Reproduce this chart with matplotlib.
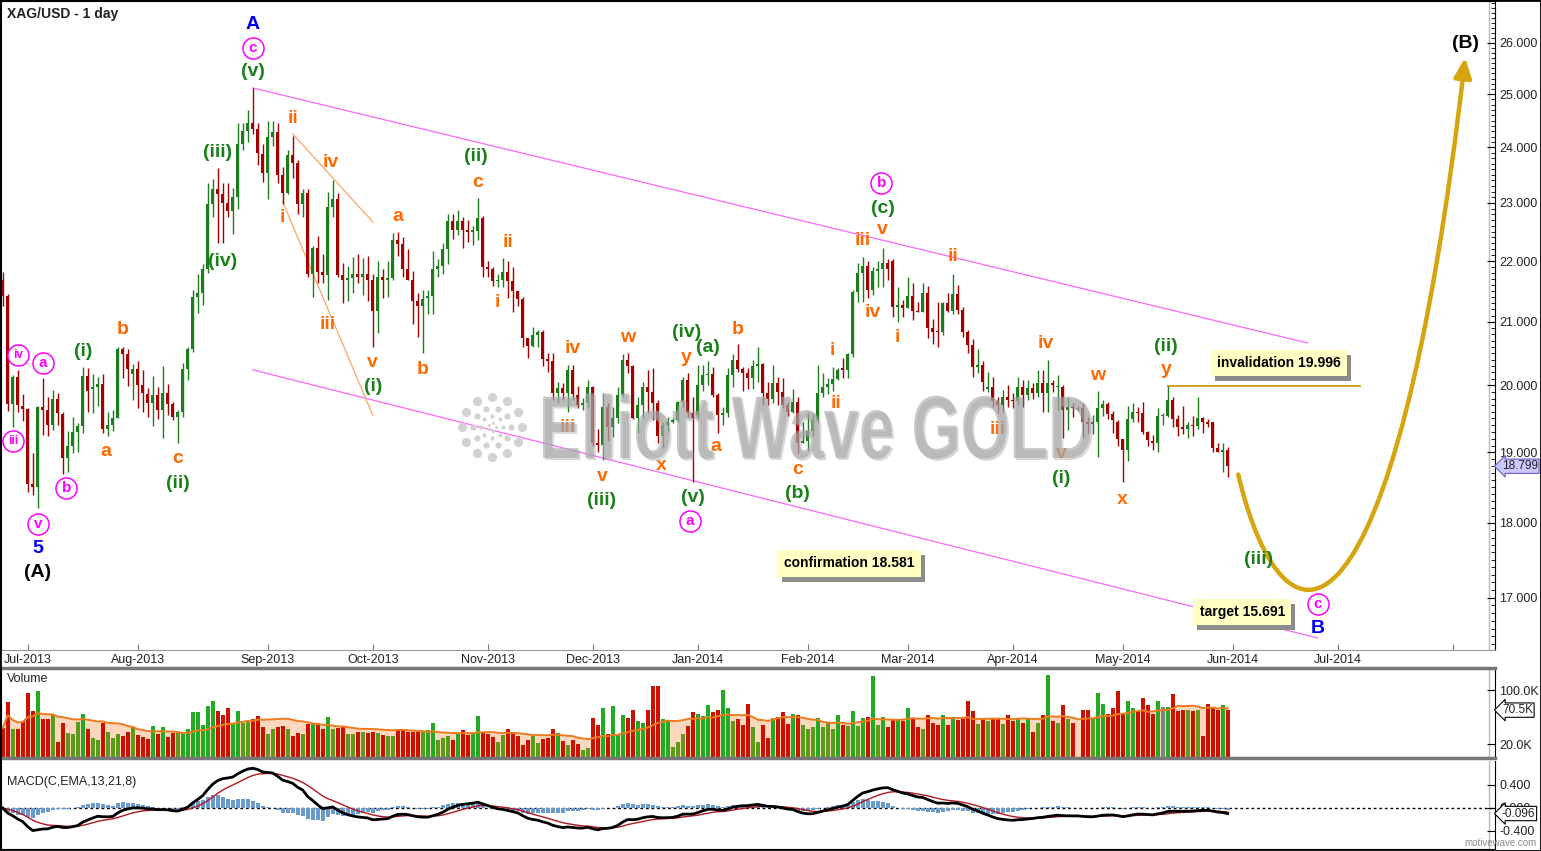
import numpy as np
import pandas as pd
import matplotlib
matplotlib.use("Agg")
import matplotlib.pyplot as plt
import matplotlib.transforms as mtransforms
from matplotlib.path import Path
from matplotlib.patches import FancyArrowPatch, ArrowStyle, Rectangle, PathPatch
from matplotlib.ticker import FixedLocator, NullFormatter, FormatStrFormatter
from matplotlib.textpath import TextPath
from matplotlib.font_manager import FontProperties

plt.rcParams['font.family'] = ['Liberation Sans', 'DejaVu Sans']

# daily XAG/USD candles (first bar = 19 Jun 2013, last = 30 May 2014)
opens = [
    21.68, 21.42, 19.72, 20.13, 19.69, 19.64, 18.54, 18.50, 19.67, 19.63,
    19.40, 19.79, 19.57, 18.92, 19.10, 19.30, 19.39, 20.14, 19.94, 19.97,
    20.02, 19.34, 19.40, 19.51, 20.56, 20.49, 20.17, 20.25, 20.00, 19.87,
    19.73, 19.85, 19.63, 19.89, 19.72, 19.52, 19.60, 20.25, 20.56, 21.40,
    21.47, 21.87, 22.98, 23.25, 23.16, 23.00, 22.86, 23.11, 24.07, 24.30,
    24.45, 24.34, 23.88, 23.53, 24.20, 24.28, 23.49, 23.18, 23.86, 23.72,
    22.98, 23.18, 21.79, 22.22, 21.81, 21.76, 22.93, 23.07, 21.76, 21.68,
    21.71, 21.79, 21.74, 21.79, 21.69, 21.18, 21.73, 21.68, 21.71, 22.36,
    22.29, 21.86, 21.68, 21.34, 21.26, 21.38, 21.41, 21.87, 21.92, 22.21,
    22.68, 22.53, 22.68, 22.53, 22.49, 22.51, 22.74, 21.90, 21.87, 21.66,
    21.69, 21.81, 21.66, 21.50, 21.37, 20.74, 20.62, 20.79, 20.83, 20.41,
    20.37, 19.88, 19.96, 19.88, 20.24, 19.85, 19.70, 19.73, 19.97, 19.14,
    19.11, 19.67, 19.37, 19.51, 19.85, 20.40, 20.30, 19.51, 19.70, 19.98,
    19.90, 19.73, 19.24, 19.40, 19.44, 19.48, 19.75, 20.08, 19.58, 19.55,
    20.00, 20.16, 20.18, 19.85, 19.55, 19.58, 20.16, 20.40, 20.25, 20.19,
    20.11, 20.30, 20.33, 19.88, 19.80, 20.03, 19.90, 19.70, 19.60, 19.75,
    19.14, 19.16, 19.31, 19.47, 19.88, 19.97, 20.02, 20.10, 20.27, 20.24,
    20.49, 21.48, 21.80, 21.92, 21.52, 21.83, 21.86, 21.97, 22.00, 21.24,
    21.27, 21.22, 21.42, 21.18, 21.16, 21.46, 20.90, 20.84, 20.83, 21.30,
    21.18, 21.45, 21.19, 20.84, 20.63, 20.29, 20.32, 19.94, 19.97, 19.76,
    19.70, 19.82, 19.78, 19.76, 19.97, 19.85, 19.96, 19.88, 20.03, 19.88,
    20.03, 19.97, 19.98, 19.63, 19.67, 19.64, 19.66, 19.44, 19.42, 19.44,
    19.66, 19.72, 19.57, 19.44, 19.19, 19.03, 19.49, 19.60, 19.58, 19.30,
    19.17, 19.14, 19.54, 19.54, 19.78, 19.49, 19.37, 19.35, 19.40, 19.39,
    19.51, 19.44, 19.44, 19.06, 19.01, 19.04,
]
highs = [
    21.82, 21.45, 20.16, 20.24, 19.87, 19.66, 18.99, 19.69, 20.11, 19.82,
    19.93, 19.88, 19.60, 19.31, 19.52, 19.43, 20.29, 20.27, 20.17, 20.13,
    20.17, 19.60, 19.63, 20.60, 20.60, 20.56, 20.33, 20.37, 20.24, 19.96,
    20.14, 19.97, 20.30, 20.02, 19.74, 19.63, 20.35, 20.60, 21.52, 21.78,
    21.95, 23.35, 23.43, 23.62, 23.35, 23.35, 23.27, 24.45, 24.45, 24.70,
    25.11, 24.45, 24.07, 24.50, 24.50, 24.45, 23.65, 23.95, 24.22, 23.77,
    23.25, 23.25, 22.26, 22.42, 22.12, 23.20, 23.40, 23.17, 21.97, 21.92,
    22.07, 22.12, 22.05, 22.08, 21.79, 22.00, 21.87, 22.00, 22.47, 22.49,
    22.40, 22.20, 21.84, 21.47, 21.52, 21.52, 22.17, 22.03, 22.31, 22.81,
    22.81, 22.88, 22.75, 22.70, 22.60, 23.09, 22.78, 22.00, 21.90, 21.79,
    22.05, 22.00, 21.90, 21.50, 21.40, 20.74, 20.92, 20.87, 20.86, 20.51,
    20.51, 20.05, 20.03, 20.32, 20.32, 19.99, 19.81, 20.08, 19.99, 19.35,
    19.88, 19.73, 19.67, 19.97, 20.48, 20.50, 20.32, 19.82, 20.05, 20.24,
    20.27, 19.78, 19.44, 19.52, 19.50, 19.77, 20.13, 20.19, 19.82, 20.32,
    20.32, 20.37, 20.29, 19.89, 19.67, 20.27, 20.48, 20.64, 20.29, 20.27,
    20.40, 20.59, 20.35, 20.05, 20.32, 20.13, 20.11, 19.75, 19.94, 19.82,
    19.45, 19.60, 19.56, 20.32, 20.19, 20.11, 20.29, 20.27, 20.43, 20.51,
    21.52, 21.97, 22.07, 22.00, 21.90, 22.00, 22.22, 22.03, 22.03, 21.57,
    21.35, 21.74, 21.63, 21.32, 21.63, 21.58, 21.05, 21.32, 21.32, 21.46,
    21.79, 21.60, 21.24, 20.87, 20.72, 20.57, 20.37, 20.21, 20.13, 19.82,
    19.93, 20.00, 19.88, 20.13, 20.08, 20.08, 20.03, 20.24, 20.24, 20.40,
    20.08, 20.16, 20.00, 19.82, 19.73, 19.69, 19.73, 19.52, 19.55, 19.91,
    19.78, 19.75, 19.61, 19.47, 19.20, 19.69, 19.73, 19.67, 19.75, 19.31,
    19.25, 19.66, 19.58, 19.996, 19.82, 19.55, 19.69, 19.44, 19.54, 19.82,
    19.52, 19.49, 19.44, 19.13, 19.14, 19.08,
]
lows = [
    21.26, 19.61, 19.37, 19.60, 19.46, 18.43, 18.39, 18.21, 19.25, 19.24,
    19.33, 19.40, 18.69, 18.72, 18.99, 19.00, 19.28, 19.60, 19.58, 19.69,
    19.28, 19.24, 19.31, 19.51, 20.11, 19.99, 19.78, 19.66, 19.60, 19.52,
    19.39, 19.49, 19.21, 19.55, 19.48, 19.13, 19.52, 20.08, 20.52, 21.14,
    21.27, 21.80, 22.75, 22.30, 22.30, 22.75, 22.46, 22.90, 23.95, 24.10,
    24.25, 23.68, 23.38, 23.07, 24.03, 23.35, 22.98, 23.16, 23.45, 22.80,
    22.75, 21.73, 21.40, 21.63, 21.63, 21.36, 22.75, 21.73, 21.31, 21.33,
    21.47, 21.63, 21.43, 21.33, 20.60, 20.82, 21.38, 21.40, 21.68, 22.08,
    21.74, 21.68, 20.96, 20.76, 20.50, 21.12, 21.12, 21.74, 21.79, 21.95,
    22.38, 22.45, 22.22, 22.33, 22.28, 22.35, 21.74, 21.73, 21.58, 21.57,
    21.57, 21.39, 21.15, 21.25, 20.60, 20.43, 20.60, 20.60, 20.30, 20.21,
    19.78, 19.73, 19.78, 19.60, 19.78, 19.66, 19.63, 19.66, 19.10, 19.00,
    18.89, 19.17, 19.22, 19.43, 19.82, 20.19, 19.49, 19.28, 19.51, 19.58,
    19.48, 19.13, 19.06, 19.30, 19.43, 19.45, 19.67, 19.52, 18.58, 19.51,
    19.92, 20.00, 19.82, 19.28, 19.40, 19.52, 19.97, 20.21, 19.92, 19.94,
    19.95, 20.05, 19.70, 19.70, 19.73, 19.70, 19.66, 19.54, 19.58, 18.99,
    19.13, 19.02, 19.24, 19.43, 19.82, 19.87, 19.91, 20.08, 20.11, 20.11,
    20.44, 21.32, 21.32, 21.39, 21.44, 21.57, 21.57, 21.68, 21.08, 21.00,
    21.07, 21.22, 21.02, 21.15, 21.16, 20.74, 20.64, 20.60, 20.79, 21.15,
    21.12, 21.13, 20.76, 20.51, 20.13, 20.19, 19.92, 19.90, 19.67, 19.58,
    19.60, 19.67, 19.66, 19.70, 19.67, 19.78, 19.79, 19.82, 19.60, 19.60,
    19.90, 19.63, 19.21, 19.33, 19.52, 19.61, 19.21, 19.28, 19.27, 18.93,
    19.54, 19.49, 19.28, 19.10, 18.57, 18.88, 19.44, 19.44, 19.27, 19.10,
    19.03, 19.01, 19.40, 19.52, 19.37, 19.24, 19.27, 19.21, 19.24, 19.35,
    19.28, 19.37, 19.01, 19.00, 18.72, 18.64,
]
closes = [
    21.42, 19.72, 20.13, 19.70, 19.64, 18.54, 18.50, 19.67, 19.63, 19.40,
    19.79, 19.58, 18.92, 19.10, 19.30, 19.39, 20.14, 19.92, 19.97, 20.02,
    19.34, 19.40, 19.51, 20.56, 20.49, 20.25, 20.25, 20.00, 19.88, 19.73,
    19.85, 19.63, 19.89, 19.72, 19.52, 19.60, 20.25, 20.56, 21.40, 21.47,
    21.87, 22.98, 23.25, 23.16, 23.00, 22.86, 23.11, 24.07, 24.30, 24.45,
    24.34, 23.90, 23.53, 24.20, 24.28, 23.49, 23.18, 23.86, 23.72, 22.98,
    23.18, 21.79, 22.22, 21.81, 21.76, 22.93, 23.07, 21.76, 21.68, 21.71,
    21.79, 21.74, 21.79, 21.69, 21.18, 21.73, 21.68, 21.71, 22.36, 22.29,
    21.86, 21.68, 21.34, 21.26, 21.37, 21.41, 21.87, 21.92, 22.21, 22.68,
    22.53, 22.68, 22.53, 22.49, 22.53, 22.74, 21.90, 21.87, 21.66, 21.69,
    21.81, 21.66, 21.50, 21.37, 20.74, 20.62, 20.79, 20.83, 20.41, 20.37,
    19.88, 19.96, 19.88, 20.24, 19.87, 19.70, 19.73, 19.97, 19.14, 19.11,
    19.67, 19.37, 19.51, 19.85, 20.40, 20.30, 19.51, 19.70, 19.98, 19.90,
    19.73, 19.24, 19.40, 19.44, 19.48, 19.75, 20.08, 19.58, 19.51, 20.00,
    20.16, 20.18, 19.85, 19.55, 19.58, 20.16, 20.40, 20.25, 20.19, 20.11,
    20.30, 20.33, 19.88, 19.80, 20.03, 19.90, 19.70, 19.60, 19.75, 19.14,
    19.16, 19.31, 19.47, 19.88, 19.97, 20.02, 20.10, 20.24, 20.24, 20.49,
    21.48, 21.80, 21.92, 21.52, 21.83, 21.86, 21.97, 21.87, 21.24, 21.27,
    21.22, 21.42, 21.18, 21.16, 21.46, 20.90, 20.83, 20.83, 21.30, 21.18,
    21.45, 21.19, 20.84, 20.63, 20.29, 20.32, 20.05, 19.98, 19.76, 19.70,
    19.82, 19.78, 19.76, 19.97, 19.85, 19.96, 19.88, 20.03, 19.88, 20.03,
    20.00, 19.98, 19.63, 19.67, 19.65, 19.66, 19.44, 19.42, 19.44, 19.66,
    19.72, 19.57, 19.47, 19.20, 19.03, 19.49, 19.60, 19.58, 19.30, 19.18,
    19.14, 19.54, 19.54, 19.78, 19.49, 19.37, 19.35, 19.40, 19.39, 19.51,
    19.44, 19.42, 19.06, 19.01, 19.04, 18.80,
]
# volume in thousands
volume_k = [
    44, 82, 42, 42, 55, 95, 69, 99, 57, 58, 64, 24, 51, 37, 36, 53, 65, 43, 30, 27,
    51, 39, 30, 36, 32, 39, 45, 34, 31, 28, 47, 36, 45, 31, 37, 38, 38, 43, 67, 67,
    49, 77, 84, 69, 64, 74, 51, 69, 51, 53, 58, 62, 46, 36, 43, 46, 47, 43, 32, 37,
    35, 50, 51, 52, 42, 60, 43, 44, 46, 36, 36, 39, 39, 37, 38, 37, 34, 32, 32, 41,
    42, 39, 39, 39, 39, 41, 51, 27, 30, 32, 26, 37, 41, 34, 37, 62, 38, 35, 31, 23,
    34, 43, 39, 33, 19, 26, 32, 22, 28, 29, 42, 37, 25, 19, 26, 21, 12, 15, 59, 48,
    74, 36, 76, 36, 63, 59, 71, 55, 51, 71, 106, 106, 58, 55, 16, 24, 36, 47, 67, 65,
    62, 78, 67, 70, 100, 73, 54, 58, 48, 79, 45, 24, 48, 30, 59, 61, 67, 50, 65, 64,
    48, 42, 46, 59, 45, 52, 43, 64, 48, 47, 69, 47, 59, 61, 121, 48, 61, 46, 58, 58,
    54, 73, 59, 45, 43, 64, 51, 48, 64, 48, 60, 56, 60, 84, 69, 50, 59, 55, 59, 59,
    50, 64, 55, 59, 51, 59, 39, 52, 63, 122, 54, 52, 78, 58, 52, 1, 70, 70, 58, 95,
    79, 65, 73, 98, 65, 84, 74, 69, 89, 78, 65, 84, 75, 75, 94, 69, 71, 70, 69, 70,
    33, 80, 73, 71, 78, 71,
]

# first bar of each month (bar number) and its label
month_first_bar = [5, 27, 53, 74, 97, 118, 139, 161, 181, 202, 224, 246, 267, 290]
month_labels = ['Jul-2013', 'Aug-2013', 'Sep-2013', 'Oct-2013', 'Nov-2013', 'Dec-2013',
                'Jan-2014', 'Feb-2014', 'Mar-2014', 'Apr-2014', 'May-2014', 'Jun-2014',
                'Jul-2014', '']
price_ticks = [17, 18, 19, 20, 21, 22, 23, 24, 25, 26]

last_price = 18.799
last_volume_k = 70.5
last_macd = -0.096

# wave labels: text, bar, price, kind
wave_labels = [
    ('A', 50, 26.38, 'blue'), ('5', 7, 17.65, 'blue'), ('B', 263, 16.60, 'blue'),
    ('(A)', 7, 17.33, 'black'), ('(B)', 292.5, 25.98, 'black'),
    ('c', 50, 25.90, 'circ'), ('iv', 3, 20.47, 'circ'), ('a', 8, 20.35, 'circ'),
    ('iii', 2, 19.17, 'circ'), ('b', 12.7, 18.49, 'circ'), ('v', 7, 17.99, 'circ'),
    ('b', 175.7, 23.36, 'circ'), ('a', 137.5, 18.02, 'circ'), ('c', 263, 16.91, 'circ'),
    ('(v)', 50, 25.43, 'green'), ('(iii)', 43, 23.90, 'green'), ('(iv)', 44, 22.00, 'green'),
    ('(i)', 16, 20.52, 'green'), ('(ii)', 35, 18.55, 'green'), ('(i)', 74, 19.98, 'green'),
    ('(ii)', 94.7, 23.83, 'green'), ('(iii)', 119.7, 18.31, 'green'), ('(iv)', 136.7, 20.82, 'green'),
    ('(a)', 141.1, 20.59, 'green'), ('(v)', 138, 18.35, 'green'), ('(b)', 159, 18.41, 'green'),
    ('(c)', 176, 22.91, 'green'), ('(i)', 211.7, 18.62, 'green'), ('(ii)', 232.7, 20.60, 'green'),
    ('(iii)', 251.1, 17.50, 'green'),
    ('a', 20.7, 19.01, 'orange'), ('b', 23.9, 20.87, 'orange'), ('c', 35, 18.91, 'orange'),
    ('ii', 58, 24.53, 'orange'), ('iv', 65.7, 23.72, 'orange'), ('i', 56, 22.75, 'orange'),
    ('iii', 65, 20.95, 'orange'), ('v', 74, 20.36, 'orange'), ('a', 79, 22.77, 'orange'),
    ('b', 84, 20.24, 'orange'), ('c', 95, 23.37, 'orange'), ('ii', 101, 22.31, 'orange'),
    ('i', 99, 21.31, 'orange'), ('iv', 114, 20.57, 'orange'), ('iii', 113, 19.36, 'orange'),
    ('v', 120, 18.65, 'orange'), ('w', 125, 20.74, 'orange'), ('x', 131.7, 18.81, 'orange'),
    ('y', 136.7, 20.43, 'orange'), ('a', 142.7, 19.08, 'orange'), ('b', 147, 20.88, 'orange'),
    ('c', 159, 18.75, 'orange'), ('i', 166, 20.55, 'orange'), ('ii', 166.7, 19.72, 'orange'),
    ('iii', 172, 22.34, 'orange'), ('v', 176, 22.53, 'orange'), ('iv', 174, 21.15, 'orange'),
    ('i', 179, 20.74, 'orange'), ('ii', 190, 22.07, 'orange'), ('iii', 199, 19.33, 'orange'),
    ('iv', 208.7, 20.66, 'orange'), ('v', 211.7, 18.98, 'orange'), ('w', 219, 20.16, 'orange'),
    ('x', 224, 18.33, 'orange'), ('y', 232.7, 20.24, 'orange'),
]

channel_upper = [(50, 25.12), (261, 20.66)]
channel_lower = [(50, 20.24), (263, 16.48)]
line_ii_iv = [(58, 24.25), (74, 22.67)]
line_i_iii = [(56, 23.02), (74, 19.55)]
invalidation_level = 19.996
invalidation_span = (233, 271.5)

note_boxes = [
    ('invalidation 19.996', 255.2, 20.35),
    ('confirmation 18.581', 169.3, 17.45),
    ('target 15.691', 247.9, 16.81),
]
# projected path for (B): start, two bezier controls, arrow tip
projection = [(247.1, 18.68), (256.5, 16.06), (278.5, 16.15), (292.5, 25.71)]

GREEN = '#1d7d1d'
RED = '#a30000'
WAVE_COLORS = {'green': '#188018', 'orange': '#ff6a00', 'blue': '#0000f0',
               'black': '#000000', 'circ': '#ff00ff'}

W, H = 1541, 851


def px_box(x0, y0, x1, y1):
    return [x0 / W, 1 - y1 / H, (x1 - x0) / W, (y1 - y0) / H]


o = np.array(opens)
hi = np.array(highs)
lo = np.array(lows)
c = np.array(closes)
vol = np.array(volume_k, dtype=float)
n = len(c)
idx = np.arange(n)

fig = plt.figure(figsize=(W / 100, H / 100), dpi=100)
ax = fig.add_axes(px_box(1, 1, 1495, 650))
axv = fig.add_axes(px_box(1, 668, 1495, 758))
axm = fig.add_axes(px_box(1, 761, 1495, 849))

x_lo, x_hi = -0.34, 298.46

# ---- candles
cols = np.where(c > o, GREEN, np.where(c < o, RED, '#555555'))
ax.vlines(idx, lo, hi, colors=cols, lw=1, zorder=3)
b_lo = np.minimum(o, c)
b_hi = np.maximum(np.maximum(o, c), b_lo * 1.0009)
ax.bar(idx, b_hi - b_lo, bottom=b_lo, width=0.64, color=cols, lw=0, zorder=4)

# channel and guide lines
for seg, col in [(channel_upper, '#ff66ff'), (channel_lower, '#ff66ff'),
                 (line_ii_iv, '#ffa466'), (line_i_iii, '#ffa466')]:
    ax.plot([seg[0][0], seg[1][0]], [seg[0][1], seg[1][1]], color=col, lw=0.9, zorder=2)
ax.plot(invalidation_span, [invalidation_level] * 2, color='#cc9a06', lw=1.3, zorder=2)

# projection arrow
path = Path(projection, [Path.MOVETO, Path.CURVE4, Path.CURVE4, Path.CURVE4])
arrow = FancyArrowPatch(path=path, arrowstyle=ArrowStyle('-|>', head_length=0.9, head_width=0.4),
                        mutation_scale=13, color='#d6a40e', lw=3.2, zorder=6)
ax.add_patch(arrow)

# wave labels
for txt, bx, py, kind in wave_labels:
    color = WAVE_COLORS[kind]
    if kind == 'circ':
        ax.scatter([bx], [py], s=230, marker='o', facecolor='white', edgecolor=color,
                   lw=1.1, zorder=9)
        fs = 8.5 if len(txt) > 1 else 11
        ax.text(bx, py, txt, color=color, fontsize=fs, fontweight='bold',
                ha='center', va='center', zorder=10)
    else:
        ax.text(bx, py, txt, color=color, fontsize=14, fontweight='bold',
                ha='center', va='center', zorder=10)

# yellow note boxes with drop shadow
shadow = mtransforms.offset_copy(ax.transData, fig=fig, x=4, y=-5, units='dots')
for txt, bx, py in note_boxes:
    ax.text(bx, py, txt, transform=shadow, ha='center', va='center', fontsize=10,
            fontweight='bold', color='#8c8c8c',
            bbox=dict(boxstyle='square,pad=0.45', fc='#8c8c8c', ec='none'), zorder=11)
    ax.text(bx, py, txt, ha='center', va='center', fontsize=10, fontweight='bold',
            color='black', bbox=dict(boxstyle='square,pad=0.45', fc='#ffffc4', ec='none'),
            zorder=12)

# watermark: condensed, tall grey lettering laid over the candles
wm = TextPath((0, 0), 'Elliott Wave GOLD', size=100,
              prop=FontProperties(family='Liberation Sans', weight='bold'))
ext = wm.get_extents()
sx = 548 / ext.width
sy = 65 / 72.9
for dx, dy, fc, al in [(2, -2, '#909090', 0.35), (0, 0, '#a8a8a8', 0.62)]:
    tr = (mtransforms.Affine2D().translate(-ext.x0, 0).scale(sx, sy)
          .translate(543 + dx, H - 458 + dy))
    fig.add_artist(PathPatch(wm, transform=tr, fc=fc, ec='none', alpha=al, zorder=5))

logo = fig.add_axes(px_box(452, 387, 532, 467))
logo.set_xlim(-40, 40)
logo.set_ylim(-40, 40)
logo.axis('off')
for radius, count, size in [(30, 12, 44), (19, 10, 20), (11, 8, 9), (4, 5, 5)]:
    ang = np.linspace(0, 2 * np.pi, count, endpoint=False)
    logo.scatter(radius * np.cos(ang), radius * np.sin(ang), s=size, color='#d2d2d2', lw=0)

# ---- price axis cosmetics
ax.set_yscale('log')
ax.set_xlim(x_lo, x_hi)
ax.set_ylim(16.33, 26.85)
ax.yaxis.tick_right()
ax.yaxis.set_major_locator(FixedLocator(price_ticks))
ax.yaxis.set_major_formatter(FormatStrFormatter('%.3f'))
ax.yaxis.set_minor_locator(FixedLocator(np.arange(16.4, 26.85, 0.1)))
ax.yaxis.set_minor_formatter(NullFormatter())
ax.tick_params(axis='y', which='major', direction='in', length=6, labelsize=9, pad=3,
               labelcolor='#222222')
ax.tick_params(axis='y', which='minor', direction='in', length=3)
ax.set_xticks(month_first_bar)
ax.set_xticklabels(month_labels)
ax.tick_params(axis='x', direction='in', length=4, labelsize=9, pad=3, color='#777777',
               labelcolor='#222222')
ax.spines['bottom'].set_color('#999999')


def value_tag(axis, y, text, fc, ec):
    axis.annotate(text, xy=(1, y), xycoords=('axes fraction', 'data'), xytext=(5, 0),
                  textcoords='offset points', ha='left', va='center', fontsize=8.5,
                  color='#222222', annotation_clip=False, zorder=20,
                  bbox=dict(boxstyle='larrow,pad=0.1', fc=fc, ec=ec, lw=0.8))


value_tag(ax, last_price, '%.3f' % last_price, '#c8c8ff', '#6a5acd')

# ---- volume pane
vma = pd.Series(vol).rolling(20, min_periods=1).mean().values
vcols = []
for i in range(n):
    if c[i] > o[i]:
        vcols.append('#22aa22' if vol[i] > vma[i] else '#5c9a1c')
    elif c[i] < o[i]:
        vcols.append('#cc1100')
    else:
        vcols.append('#808080')
axv.fill_between(idx, 0, vma, color='#fbd8bd', lw=0, zorder=1)
axv.bar(idx, vol, width=0.8, color=vcols, lw=0, zorder=2)
axv.plot(idx, vma, color='#ee7a1f', lw=1.4, zorder=3)
axv.set_xlim(x_lo, x_hi)
axv.set_ylim(0, 132.5)
axv.set_xticks([])
axv.yaxis.tick_right()
axv.set_yticks([20, 100])
axv.set_yticklabels(['20.0K', '100.0K'])
axv.tick_params(axis='y', direction='in', length=6, labelsize=9, pad=3, labelcolor='#222222')
axv.spines['top'].set_color('#777777')
axv.spines['top'].set_linewidth(2.5)
axv.spines['bottom'].set_color('#777777')
axv.spines['bottom'].set_linewidth(2.5)
axv.text(0.004, 0.88, 'Volume', transform=axv.transAxes, fontsize=9, va='center',
         color='#222222')
value_tag(axv, last_volume_k, '%.1fK' % last_volume_k, 'white', 'black')

# ---- MACD pane
cs = pd.Series(c)
macd = cs.ewm(span=13, adjust=False).mean() - cs.ewm(span=21, adjust=False).mean()
signal = macd.ewm(span=8, adjust=False).mean()
hist = macd - signal
axm.axhline(0, color='black', lw=1, ls=(0, (2, 2)), zorder=1)
axm.bar(idx, hist, width=0.75, color='#6a9bcc', lw=0, zorder=2)
axm.plot(idx, signal, color='#b0171f', lw=1, zorder=3)
axm.plot(idx, macd, color='black', lw=2, zorder=4)
axm.set_xlim(x_lo, x_hi)
axm.set_ylim(-0.713, 0.817)
axm.set_xticks([])
axm.yaxis.tick_right()
axm.set_yticks([-0.4, 0.0, 0.4])
axm.set_yticklabels(['-0.400', '0.000', '0.400'])
axm.tick_params(axis='y', direction='in', length=6, labelsize=9, pad=3, labelcolor='#222222')
axm.spines['top'].set_visible(False)
axm.text(0.004, 0.76, 'MACD(C,EMA,13,21,8)', transform=axm.transAxes, fontsize=9,
         va='center', color='#222222')
value_tag(axm, last_macd, '%.3f' % last_macd, 'white', 'black')

# inner plot border line just left of the value axis
for a in (ax, axv, axm):
    a.plot([0.996, 0.996], [0, 1], transform=a.transAxes, color='#bbbbbb', lw=1, zorder=1)

fig.text(7 / W, 1 - 14 / H, 'XAG/USD - 1 day', fontsize=10, fontweight='bold', va='center',
         color='#222222')
fig.text(1537 / W, 1 - 843 / H, 'motivewave.com', fontsize=7, ha='right', va='center',
         color='#888888')
fig.patches.append(Rectangle((0, 0), 1, 1, transform=fig.transFigure, fill=False,
                             ec='black', lw=2))

fig.savefig('out.png', dpi=100)
